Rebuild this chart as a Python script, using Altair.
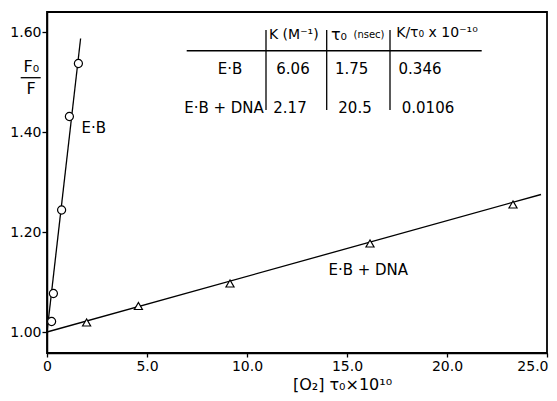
import altair as alt
import pandas as pd

FONT = "DejaVu Sans"

# ---- data ----
eb_x = [0.23, 0.32, 0.73, 1.12, 1.57]
eb_y = [1.021, 1.077, 1.244, 1.431, 1.537]
dna_x = [1.98, 4.57, 9.15, 16.15, 23.3]
dna_y = [1.019, 1.052, 1.097, 1.177, 1.255]

# fitted lines (end points)
eb_line_x = [0.0, 1.68]
eb_line_y = [1.0, 1.587]
dna_line_x = [0.0, 24.7]
dna_line_y = [1.0, 1.275]

series_names = ["E·B", "E·B + DNA"]

x_ticks = [0, 5, 10, 15, 20, 25]
y_ticks = [1.0, 1.2, 1.4, 1.6]

# table content
table_rows = ["E·B", "E·B + DNA"]
table_K = ["6.06", "2.17"]
table_tau = ["1.75", "20.5"]
table_ratio = ["0.346", "0.0106"]

# ---- frames ----
points = pd.DataFrame(
    {"x": eb_x + dna_x, "y": eb_y + dna_y,
     "series": [series_names[0]] * len(eb_x) + [series_names[1]] * len(dna_x)}
)
lines = pd.DataFrame(
    {"x": eb_line_x + dna_line_x, "y": eb_line_y + dna_line_y,
     "series": [series_names[0]] * 2 + [series_names[1]] * 2}
)

xs = alt.Scale(domain=[0, 25], nice=False, zero=False)
ys = alt.Scale(domain=[0.958, 1.640], nice=False, zero=False)

X = alt.X("x:Q", scale=xs, axis=alt.Axis(
    values=x_ticks, title="[O₂] τ₀×10¹⁰",
    labelExpr="datum.value == 0 ? '0' : format(datum.value, '.1f')",
    labelAlign=alt.expr("datum.value == 25 ? 'right' : 'center'"),
    labelOffset=alt.expr("datum.value == 25 ? 1 : 0"),
    titleFontSize=16, titleFontWeight="normal", titleFont=FONT,
    titleX=295, titleY=31, titleBaseline="middle", titleAlign="center",
    tickSize=4, labelPadding=2))
Y = alt.Y("y:Q", scale=ys, axis=alt.Axis(
    values=y_ticks, format=".2f", title=None, tickSize=5, labelPadding=1))

line_layer = alt.Chart(lines).mark_line(color="black", strokeWidth=1.3).encode(
    x=X, y=Y, detail="series:N")

point_layer = alt.Chart(points).mark_point(
    filled=True, fill="white", stroke="black", strokeWidth=1.2, size=65, opacity=1
).encode(
    x=X, y=Y,
    shape=alt.Shape("series:N", scale=alt.Scale(domain=series_names, range=["circle", "triangle-up"]), legend=None),
)

# series labels
lbl = pd.DataFrame({"x": [1.73, 14.07], "y": [1.408, 1.125], "text": series_names})
label_layer = alt.Chart(lbl).mark_text(align="left", baseline="middle", font=FONT, fontSize=15, color="black").encode(
    x=X, y=Y, text="text:N")

# y-axis fraction title
ytitle = pd.DataFrame({"x": [-0.78, -0.8], "y": [1.5306, 1.487], "text": ["F₀", "F"]})
ytitle_layer = alt.Chart(ytitle).mark_text(align="center", baseline="middle", font=FONT, fontSize=16, color="black").encode(
    x=X, y=Y, text="text:N")
ybar = pd.DataFrame({"x": [-1.315], "x2": [-0.315], "y": [1.5086]})
ybar_layer = alt.Chart(ybar).mark_rule(color="black", strokeWidth=1.3).encode(
    x=X, x2="x2:Q", y=Y)

# table
tx_text = ["K (M⁻¹)", "τ₀", "(nsec)", "K/τ₀ x 10⁻¹⁰"] + table_rows + table_K + table_tau + table_ratio
tx_x = [12.34, 14.6, 16.1, 19.5] + [9.15, 8.85] + [12.3, 12.15] + [15.235, 15.4] + [18.65, 19.05]
tx_y = [1.594, 1.594, 1.594, 1.598] + [1.527, 1.449] * 4
tx_size = [14, 16, 10, 14] + [15] * 8
table_text = pd.DataFrame({"x": tx_x, "y": tx_y, "text": tx_text, "size": tx_size})
table_text_layer = alt.Chart(table_text).mark_text(align="center", baseline="middle", font=FONT, color="black").encode(
    x=X, y=Y, text="text:N", size=alt.Size("size:Q", scale=None, legend=None))

hrule = pd.DataFrame({"x": [6.985], "x2": [21.735], "y": [1.5626]})
hrule_layer = alt.Chart(hrule).mark_rule(color="black", strokeWidth=1.5).encode(x=X, x2="x2:Q", y=Y)
vrule = pd.DataFrame({"x": [10.95, 13.985, 17.15], "y": [1.604] * 3, "y2": [1.444] * 3})
vrule_layer = alt.Chart(vrule).mark_rule(color="black", strokeWidth=1.3).encode(x=X, y=Y, y2="y2:Q")

chart = alt.layer(
    line_layer, point_layer, label_layer, ytitle_layer, ybar_layer,
    table_text_layer, hrule_layer, vrule_layer
).properties(
    width=500, height=341,
    autosize=alt.AutoSizeParams(type="none"),
    padding={"left": 39, "top": 4, "right": 2, "bottom": 40},
    background="white",
).configure_view(
    stroke="black", strokeWidth=1.8
).configure_axis(
    grid=False, labelFont=FONT, labelFontSize=14, labelColor="black",
    tickColor="black", domainColor="black", domainWidth=1.5, tickWidth=1.3,
    titleColor="black",
)

chart.save("out.html", embed_options={"renderer": "svg", "actions": False})
